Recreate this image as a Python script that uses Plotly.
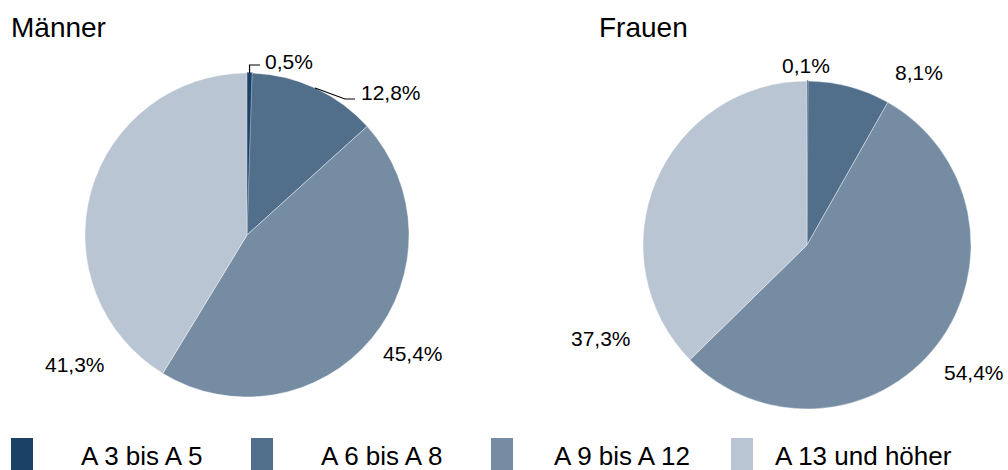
import math
import plotly.graph_objects as go

# Daten
categories = ["A 3 bis A 5", "A 6 bis A 8", "A 9 bis A 12", "A 13 und höher"]
maenner = [0.5, 12.8, 45.4, 41.3]
frauen = [0.1, 8.1, 54.4, 37.3]
colors = ["#1c4166", "#516e8b", "#758ca3", "#b9c5d2"]

W, H = 1008, 470
FONT = "Arial, Liberation Sans, sans-serif"


def px(x):
    return x / W


def py(y):
    return 1 - y / H


def fmt(v):
    return f"{v:.1f}".replace(".", ",") + "%"


# Kreismittelpunkte und Radien (Pixel)
pies = {
    "Männer": dict(values=maenner, cx=247, cy=235, r=162),
    "Frauen": dict(values=frauen, cx=807, cy=245, r=164),
}

fig = go.Figure()
for name, p in pies.items():
    fig.add_trace(go.Pie(
        labels=categories,
        values=p["values"],
        sort=False,
        direction="clockwise",
        rotation=0,
        textinfo="none",
        hoverinfo="label+percent",
        showlegend=False,
        marker=dict(colors=colors,
                    line=dict(color=[colors[0], "white", "white", "white"],
                              width=[1.2, 0.4, 0.4, 0.4])),
        domain=dict(x=[px(p["cx"] - p["r"]), px(p["cx"] + p["r"])],
                    y=[py(p["cy"] + p["r"]), py(p["cy"] - p["r"])]),
    ))

# Beschriftungspositionen (Pixel, Textmitte bzw. linker Rand)
label_pos = {
    "Männer": [(263, 61, "left"), (359, 92, "left"), (413, 353, "center"), (75, 364, "center")],
    "Frauen": [(806, 66, "center"), (919, 72, "center"), (974, 372, "center"), (601, 338, "center")],
}

annotations = []
for name, p in pies.items():
    for v, (x, y, anchor) in zip(p["values"], label_pos[name]):
        annotations.append(dict(x=px(x), y=py(y), xref="paper", yref="paper",
                                text=fmt(v), showarrow=False, xanchor=anchor,
                                yanchor="middle", font=dict(size=21, color="black")))

# Titel
annotations.append(dict(x=px(9), y=py(27), xref="paper", yref="paper", text="Männer",
                        showarrow=False, xanchor="left", yanchor="middle",
                        font=dict(size=28, color="black")))
annotations.append(dict(x=px(597), y=py(27), xref="paper", yref="paper", text="Frauen",
                        showarrow=False, xanchor="left", yanchor="middle",
                        font=dict(size=28, color="black")))

shapes = []

# Führungslinien (linker Kreis, kleine Segmente)
def edge_point(p, idx):
    cum = sum(p["values"][:idx]) + p["values"][idx] / 2
    a = 2 * math.pi * cum / sum(p["values"])
    return p["cx"] + p["r"] * math.sin(a), p["cy"] - p["r"] * math.cos(a)


m = pies["Männer"]
x0, y0 = edge_point(m, 0)
x1, y1 = edge_point(m, 1)
leaders = [
    [(x0, y0), (x0, 65), (260, 65)],
    [(x1, y1), (345, 99), (355, 99)],
]
for pts in leaders:
    path = "M " + " L ".join(f"{px(x)},{py(y)}" for x, y in pts)
    shapes.append(dict(type="path", path=path, xref="paper", yref="paper",
                       line=dict(color="black", width=1.2)))

# Legende
legend_sq = [11, 251, 491, 731]
legend_tx = [79, 319, 552, 773]
for cat, col, sx, tx in zip(categories, colors, legend_sq, legend_tx):
    shapes.append(dict(type="rect", xref="paper", yref="paper",
                       x0=px(sx), x1=px(sx + 22), y0=py(472), y1=py(438),
                       fillcolor=col, line=dict(width=0)))
    annotations.append(dict(x=px(tx), y=py(456), xref="paper", yref="paper", text=cat,
                            showarrow=False, xanchor="left", yanchor="middle",
                            font=dict(size=26, color="black")))

fig.update_layout(
    width=W, height=H,
    margin=dict(l=0, r=0, t=0, b=0),
    paper_bgcolor="white",
    plot_bgcolor="white",
    font=dict(family=FONT, color="black"),
    annotations=annotations,
    shapes=shapes,
)

# Standard-Seitenrand des Browsers entfernen
fig.write_html("out.html", config={"displayModeBar": False},
               post_script="document.body.style.margin='0';")
